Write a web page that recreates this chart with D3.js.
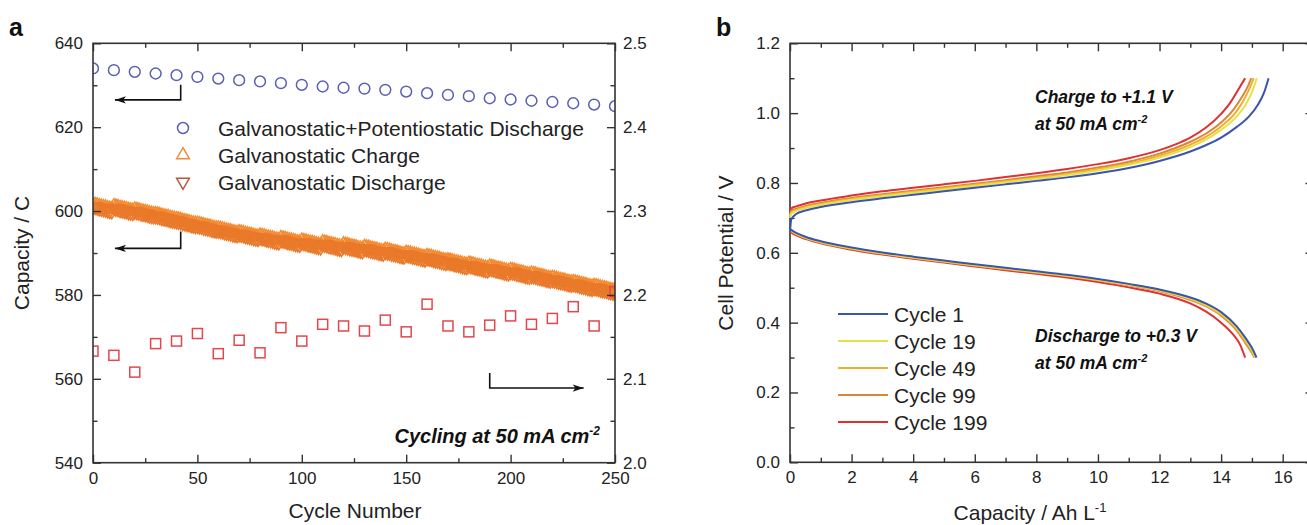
<!DOCTYPE html>
<html>
<head>
<meta charset="utf-8">
<script src="https://cdn.jsdelivr.net/npm/d3@7"></script>
<style>
  html, body { margin: 0; padding: 0; background: #fff; }
  svg { display: block; font-family: "Liberation Sans", Arial, Helvetica, sans-serif; }
  .tick text { font-size: 17px; fill: #222; }
  .domain { display: none; }
  .tick line { stroke: #333; stroke-width: 1.4; }
</style>
</head>
<body>
<svg id="chart" width="1307" height="525"></svg>
<script>
// ---------- Panel a: cycling data ----------
const cycleTicks = [0, 50, 100, 150, 200, 250];
const capTicks = [540, 560, 580, 600, 620, 640];
const voltTicksA = [2.0, 2.1, 2.2, 2.3, 2.4, 2.5];

// Galvanostatic + potentiostatic discharge capacity (C), every 10 cycles
const gpCycles = [0,10,20,30,40,50,60,70,80,90,100,110,120,130,140,150,160,170,180,190,200,210,220,230,240,250];
const gpCapacity = [634.0,633.6,633.2,632.8,632.4,632.0,631.6,631.2,630.9,630.5,630.1,629.7,629.4,629.2,628.9,628.5,628.1,627.7,627.4,626.9,626.6,626.3,626.0,625.7,625.4,625.0];

// Galvanostatic charge capacity (C), cycles 0..250
const galvCharge = [
  601.5,601.4,601.3,601.1,601.0,600.9,600.8,600.6,600.5,600.4,
  601.1,601.0,600.9,600.7,600.6,600.5,600.4,600.2,600.1,600.0,
  600.3,600.2,600.1,599.9,599.8,599.7,599.6,599.4,599.3,599.2,
  599.2,599.1,599.0,598.8,598.7,598.6,598.5,598.3,598.2,598.1,
  598.0,597.9,597.8,597.6,597.5,597.4,597.3,597.1,597.0,596.9,
  596.9,596.8,596.7,596.5,596.4,596.3,596.2,596.0,595.9,595.8,
  595.8,595.7,595.6,595.4,595.3,595.2,595.1,594.9,594.8,594.7,
  594.9,594.8,594.7,594.5,594.4,594.3,594.2,594.0,593.9,593.8,
  594.1,594.0,593.9,593.7,593.6,593.5,593.4,593.2,593.1,593.0,
  593.5,593.4,593.3,593.1,593.0,592.9,592.8,592.6,592.5,592.4,
  592.9,592.8,592.7,592.5,592.4,592.3,592.2,592.0,591.9,591.8,
  592.5,592.4,592.3,592.1,592.0,591.9,591.8,591.6,591.5,591.4,
  592.0,591.9,591.8,591.6,591.5,591.4,591.3,591.1,591.0,590.9,
  591.4,591.3,591.2,591.0,590.9,590.8,590.7,590.5,590.4,590.3,
  590.7,590.6,590.5,590.3,590.2,590.1,590.0,589.8,589.7,589.6,
  590.0,589.9,589.8,589.6,589.5,589.4,589.3,589.1,589.0,588.9,
  589.2,589.1,589.0,588.8,588.7,588.6,588.5,588.3,588.2,588.1,
  588.2,588.1,588.0,587.8,587.7,587.6,587.5,587.3,587.2,587.1,
  587.4,587.3,587.2,587.0,586.9,586.8,586.7,586.5,586.4,586.3,
  586.7,586.6,586.5,586.3,586.2,586.1,586.0,585.8,585.7,585.6,
  585.9,585.8,585.7,585.5,585.4,585.3,585.2,585.0,584.9,584.8,
  585.0,584.9,584.8,584.6,584.5,584.4,584.3,584.1,584.0,583.9,
  584.0,583.9,583.8,583.6,583.5,583.4,583.3,583.1,583.0,582.9,
  583.0,582.9,582.8,582.6,582.5,582.4,582.3,582.1,582.0,581.9,
  582.1,582.0,581.9,581.7,581.6,581.5,581.4,581.2,581.1,581.0,
  580.9
];

// Galvanostatic discharge capacity (C), cycles 0..250
const galvDischarge = [
  601.1,601.0,600.9,600.7,600.6,600.5,600.4,600.2,600.1,600.0,
  600.7,600.6,600.5,600.3,600.2,600.1,600.0,599.8,599.7,599.6,
  599.9,599.8,599.7,599.5,599.4,599.3,599.2,599.0,598.9,598.8,
  598.8,598.7,598.6,598.4,598.3,598.2,598.1,597.9,597.8,597.7,
  597.6,597.5,597.4,597.2,597.1,597.0,596.9,596.7,596.6,596.5,
  596.5,596.4,596.3,596.1,596.0,595.9,595.8,595.6,595.5,595.4,
  595.4,595.3,595.2,595.0,594.9,594.8,594.7,594.5,594.4,594.3,
  594.5,594.4,594.3,594.1,594.0,593.9,593.8,593.6,593.5,593.4,
  593.7,593.6,593.5,593.3,593.2,593.1,593.0,592.8,592.7,592.6,
  593.1,593.0,592.9,592.7,592.6,592.5,592.4,592.2,592.1,592.0,
  592.5,592.4,592.3,592.1,592.0,591.9,591.8,591.6,591.5,591.4,
  592.1,592.0,591.9,591.7,591.6,591.5,591.4,591.2,591.1,591.0,
  591.6,591.5,591.4,591.2,591.1,591.0,590.9,590.7,590.6,590.5,
  591.0,590.9,590.8,590.6,590.5,590.4,590.3,590.1,590.0,589.9,
  590.3,590.2,590.1,589.9,589.8,589.7,589.6,589.4,589.3,589.2,
  589.6,589.5,589.4,589.2,589.1,589.0,588.9,588.7,588.6,588.5,
  588.8,588.7,588.6,588.4,588.3,588.2,588.1,587.9,587.8,587.7,
  587.8,587.7,587.6,587.4,587.3,587.2,587.1,586.9,586.8,586.7,
  587.0,586.9,586.8,586.6,586.5,586.4,586.3,586.1,586.0,585.9,
  586.3,586.2,586.1,585.9,585.8,585.7,585.6,585.4,585.3,585.2,
  585.5,585.4,585.3,585.1,585.0,584.9,584.8,584.6,584.5,584.4,
  584.6,584.5,584.4,584.2,584.1,584.0,583.9,583.7,583.6,583.5,
  583.6,583.5,583.4,583.2,583.1,583.0,582.9,582.7,582.6,582.5,
  582.6,582.5,582.4,582.2,582.1,582.0,581.9,581.7,581.6,581.5,
  581.7,581.6,581.5,581.3,581.2,581.1,581.0,580.8,580.7,580.6,
  580.5
];

// Red squares on right axis (V), every 10 cycles
const voltCycles = [0,10,20,30,40,50,60,70,80,90,100,110,120,130,140,150,160,170,180,190,200,210,220,230,240,250];
const voltValues = [2.133,2.128,2.108,2.142,2.145,2.154,2.130,2.146,2.131,2.161,2.145,2.165,2.163,2.157,2.170,2.156,2.189,2.163,2.156,2.164,2.175,2.165,2.172,2.186,2.163,2.204];

const legendA = ["Galvanostatic+Potentiostatic Discharge", "Galvanostatic Charge", "Galvanostatic Discharge"];

// ---------- Panel b: voltage profiles ----------
const capTicksB = [0, 2, 4, 6, 8, 10, 12, 14, 16];
const potTicksB = [0.0, 0.2, 0.4, 0.6, 0.8, 1.0, 1.2];
const cycleNames = ["Cycle 1", "Cycle 19", "Cycle 49", "Cycle 99", "Cycle 199"];
const cycleColors = ["#3b55ad", "#e6e14a", "#f0ae2e", "#d8873a", "#e0302f"];

// [capacity Ah/L, potential V]
const chargeC1 = [[0,0.66],[0.04,0.695],[0.2,0.711],[0.5,0.721],[1,0.731],[2,0.745],[3,0.756],[4,0.766],[5,0.776],[6,0.786],[7,0.796],[8,0.806],[9,0.816],[10,0.828],[11,0.843],[12,0.863],[13,0.89],[13.5,0.908],[14,0.93],[14.5,0.96],[14.9,0.99],[15.2,1.025],[15.4,1.06],[15.54,1.10]];
const chargeC19 = [[0,0.70],[0.04,0.712],[0.2,0.72],[0.5,0.728],[1,0.737],[2,0.751],[3,0.762],[4,0.772],[5,0.782],[6,0.792],[7,0.802],[8,0.812],[9,0.823],[10,0.836],[11,0.852],[12,0.873],[13,0.903],[13.5,0.924],[14,0.952],[14.5,0.99],[14.8,1.025],[15.0,1.06],[15.16,1.10]];
const chargeC49 = [[0,0.705],[0.04,0.716],[0.2,0.723],[0.5,0.731],[1,0.740],[2,0.754],[3,0.765],[4,0.775],[5,0.785],[6,0.795],[7,0.805],[8,0.815],[9,0.826],[10,0.84],[11,0.856],[12,0.878],[13,0.91],[13.5,0.932],[14,0.962],[14.5,1.005],[14.75,1.04],[14.92,1.07],[15.06,1.10]];
const chargeC99 = [[0,0.708],[0.04,0.72],[0.2,0.726],[0.5,0.734],[1,0.743],[2,0.757],[3,0.768],[4,0.778],[5,0.788],[6,0.798],[7,0.808],[8,0.819],[9,0.83],[10,0.844],[11,0.861],[12,0.884],[13,0.918],[13.5,0.941],[14,0.973],[14.4,1.01],[14.7,1.05],[14.86,1.075],[14.98,1.10]];
const chargeC199 = [[0,0.715],[0.04,0.727],[0.2,0.733],[0.5,0.741],[1,0.75],[2,0.764],[3,0.776],[4,0.786],[5,0.796],[6,0.806],[7,0.817],[8,0.828],[9,0.84],[10,0.854],[11,0.871],[12,0.894],[12.5,0.91],[13,0.93],[13.5,0.958],[14,0.998],[14.3,1.03],[14.55,1.066],[14.78,1.10]];

const dischargeC1 = [[0,0.668],[0.2,0.657],[0.5,0.646],[1,0.633],[2,0.615],[3,0.601],[4,0.589],[5,0.578],[6,0.567],[7,0.557],[8,0.547],[9,0.537],[10,0.525],[11,0.511],[12,0.495],[13,0.472],[13.5,0.455],[14,0.43],[14.5,0.39],[14.8,0.355],[15.0,0.328],[15.15,0.30]];
const dischargeC19 = [[0,0.666],[0.2,0.655],[0.5,0.644],[1,0.631],[2,0.613],[3,0.599],[4,0.587],[5,0.576],[6,0.565],[7,0.555],[8,0.545],[9,0.535],[10,0.523],[11,0.509],[12,0.493],[13,0.469],[13.5,0.452],[14,0.426],[14.5,0.386],[14.8,0.35],[15.0,0.322],[15.12,0.30]];
const dischargeC49 = [[0,0.665],[0.2,0.654],[0.5,0.643],[1,0.630],[2,0.612],[3,0.598],[4,0.586],[5,0.575],[6,0.564],[7,0.554],[8,0.544],[9,0.534],[10,0.522],[11,0.508],[12,0.491],[13,0.467],[13.5,0.449],[14,0.423],[14.5,0.382],[14.8,0.345],[15.0,0.318],[15.1,0.30]];
const dischargeC99 = [[0,0.664],[0.2,0.653],[0.5,0.642],[1,0.629],[2,0.611],[3,0.597],[4,0.585],[5,0.574],[6,0.563],[7,0.553],[8,0.543],[9,0.533],[10,0.521],[11,0.507],[12,0.490],[13,0.465],[13.5,0.447],[14,0.42],[14.5,0.378],[14.8,0.34],[15.0,0.313],[15.08,0.30]];
const dischargeC199 = [[0,0.66],[0.2,0.65],[0.5,0.64],[1,0.627],[2,0.609],[3,0.595],[4,0.583],[5,0.572],[6,0.561],[7,0.55],[8,0.54],[9,0.529],[10,0.516],[11,0.501],[12,0.483],[13,0.455],[13.5,0.432],[14,0.40],[14.4,0.365],[14.6,0.34],[14.78,0.30]];

const chargeCurves = [chargeC1, chargeC19, chargeC49, chargeC99, chargeC199];
const dischargeCurves = [dischargeC1, dischargeC19, dischargeC49, dischargeC99, dischargeC199];

// ---------- drawing ----------
const svg = d3.select("#chart");
const AXIS = "#333";

function frameAxes(g, x, y, xMajor, xMinor, yMajor, yMinor, yFmt, left, right, top, bottom) {
  const maj = 8, min = 4.5;
  const add = (gen, tr) => g.append("g").attr("transform", tr).call(gen);
  add(d3.axisBottom(x).tickValues(xMajor).tickSize(-maj).tickPadding(9).tickFormat(d3.format("d")), `translate(0,${bottom})`);
  add(d3.axisBottom(x).tickValues(xMinor).tickSize(-min).tickFormat(""), `translate(0,${bottom})`);
  add(d3.axisTop(x).tickValues(xMajor).tickSize(-maj).tickFormat(""), `translate(0,${top})`);
  add(d3.axisTop(x).tickValues(xMinor).tickSize(-min).tickFormat(""), `translate(0,${top})`);
  add(d3.axisLeft(y).tickValues(yMajor).tickSize(-maj).tickPadding(10).tickFormat(yFmt), `translate(${left},0)`);
  add(d3.axisLeft(y).tickValues(yMinor).tickSize(-min).tickFormat(""), `translate(${left},0)`);
  g.append("rect").attr("x", left).attr("y", top).attr("width", right - left).attr("height", bottom - top)
    .attr("fill", "none").attr("stroke", AXIS).attr("stroke-width", 1.6);
}

function arrow(g, pts, color) {
  g.append("path").attr("d", d3.line()(pts)).attr("fill", "none").attr("stroke", color).attr("stroke-width", 1.6);
  const [p1, p2] = pts.slice(-2);
  const ang = Math.atan2(p2[1] - p1[1], p2[0] - p1[0]);
  const L = 11, Wd = 3.6;
  const tip = p2, back = [tip[0] - L * Math.cos(ang), tip[1] - L * Math.sin(ang)];
  const nx = -Math.sin(ang), ny = Math.cos(ang);
  g.append("path").attr("d", d3.line()([tip, [back[0] + nx * Wd, back[1] + ny * Wd], [back[0] + (tip[0]-back[0])*0.25, back[1] + (tip[1]-back[1])*0.25], [back[0] - nx * Wd, back[1] - ny * Wd]]) + "Z").attr("fill", color);
}

// ---- Panel a ----
const ga = svg.append("g");
const xA = d3.scaleLinear([0, 250], [93, 615]);
const yA = d3.scaleLinear([540, 640], [462.7, 43.3]);
const yA2 = d3.scaleLinear([2.0, 2.5], [462.7, 43.3]);

svg.append("defs").append("clipPath").attr("id", "clipA")
  .append("rect").attr("x", 93).attr("y", 43.3).attr("width", 615 - 93).attr("height", 462.7 - 43.3);

const marksA = ga.append("g").attr("clip-path", "url(#clipA)");

frameAxes(ga, xA, yA, cycleTicks, [25,75,125,175,225], capTicks, [550,570,590,610,630], d3.format("d"), 93, 615, 43.3, 462.7);
ga.append("g").attr("transform", "translate(615,0)")
  .call(d3.axisRight(yA2).tickValues(voltTicksA).tickSize(-8).tickPadding(8).tickFormat(d3.format(".1f")));
ga.append("g").attr("transform", "translate(615,0)")
  .call(d3.axisRight(yA2).tickValues([2.05,2.15,2.25,2.35,2.45]).tickSize(-4.5).tickFormat(""));

const symTri = d3.symbol().type(d3.symbolTriangle).size(78);

// charge (up triangles) and discharge (down triangles)
marksA.selectAll(".chg").data(galvCharge).join("path")
  .attr("d", symTri).attr("transform", (d, i) => `translate(${xA(i)},${yA(d)})`)
  .attr("fill", "none").attr("stroke", "#f58a2e").attr("stroke-width", 1.5);
marksA.selectAll(".dis").data(galvDischarge).join("path")
  .attr("d", symTri).attr("transform", (d, i) => `translate(${xA(i)},${yA(d)}) rotate(180)`)
  .attr("fill", "none").attr("stroke", "#e9792a").attr("stroke-width", 1.5);

marksA.selectAll(".gp").data(gpCapacity).join("circle")
  .attr("cx", (d, i) => xA(gpCycles[i])).attr("cy", d => yA(d)).attr("r", 5.4)
  .attr("fill", "none").attr("stroke", "#5a60b4").attr("stroke-width", 1.5);

marksA.selectAll(".sq").data(voltValues).join("rect")
  .attr("x", (d, i) => xA(voltCycles[i]) - 5).attr("y", d => yA2(d) - 5).attr("width", 10).attr("height", 10)
  .attr("fill", "none").attr("stroke", "#e2474d").attr("stroke-width", 1.5);

// axis-pointing arrows
arrow(ga, [[xA(42), yA(630.1)], [xA(42), yA(626.5)], [xA(10.5), yA(626.5)]], "#111");
arrow(ga, [[xA(42), yA(595.1)], [xA(42), yA(591.1)], [xA(10.5), yA(591.1)]], "#111");
arrow(ga, [[xA(190), yA2(2.107)], [xA(190), yA2(2.089)], [xA(235), yA2(2.089)]], "#111");

// legend
const legA = ga.append("g");
const legY = [128, 155, 182];
legA.append("circle").attr("cx", 183).attr("cy", legY[0]).attr("r", 5.5).attr("fill", "none").attr("stroke", "#5a60b4").attr("stroke-width", 1.5);
legA.append("path").attr("d", d3.symbol().type(d3.symbolTriangle).size(70)).attr("transform", `translate(183,${legY[1]})`).attr("fill", "none").attr("stroke", "#f08a3c").attr("stroke-width", 1.5);
legA.append("path").attr("d", d3.symbol().type(d3.symbolTriangle).size(70)).attr("transform", `translate(183,${legY[2]}) rotate(180)`).attr("fill", "none").attr("stroke", "#b8563a").attr("stroke-width", 1.5);
legA.selectAll("text").data(legendA).join("text")
  .attr("x", 218).attr("y", (d, i) => legY[i] + 7.5).attr("font-size", 21).attr("fill", "#222").text(d => d);

// annotation
const cyc = ga.append("text").attr("x", 600).attr("y", 443).attr("text-anchor", "end")
  .attr("font-size", 20).attr("font-weight", "bold").attr("font-style", "italic").attr("fill", "#111");
cyc.append("tspan").text("Cycling at 50 mA cm");
cyc.append("tspan").attr("dy", -8).attr("font-size", 12).text("-2");

// axis titles
ga.append("text").attr("x", 355).attr("y", 518).attr("text-anchor", "middle").attr("font-size", 21).attr("fill", "#222").text("Cycle Number");
ga.append("text").attr("transform", "translate(29,253) rotate(-90)").attr("text-anchor", "middle").attr("font-size", 21).attr("fill", "#222").text("Capacity / C");
ga.append("text").attr("x", 9).attr("y", 36).attr("font-size", 25).attr("font-weight", "bold").attr("fill", "#111").text("a");

// ---- Panel b ----
const gb = svg.append("g");
const xB = d3.scaleLinear([0, 17], [790, 1313.5]);
const yB = d3.scaleLinear([0, 1.2], [462.3, 43.3]);

frameAxes(gb, xB, yB, capTicksB, [1,3,5,7,9,11,13,15], potTicksB, [0.1,0.3,0.5,0.7,0.9,1.1], d3.format(".1f"), 790, 1313.5, 43.3, 462.3);
gb.append("g").attr("transform", "translate(1313.5,0)")
  .call(d3.axisRight(yB).tickValues(potTicksB).tickSize(-8).tickFormat(""));
gb.append("g").attr("transform", "translate(1313.5,0)")
  .call(d3.axisRight(yB).tickValues([0.1,0.3,0.5,0.7,0.9,1.1]).tickSize(-4.5).tickFormat(""));

const lineB = d3.line().x(d => xB(d[0])).y(d => yB(d[1])).curve(d3.curveMonotoneX);
const curvesB = gb.append("g");
[4, 3, 2, 1, 0].forEach(k => {
  curvesB.append("path").attr("d", lineB(chargeCurves[k])).attr("fill", "none").attr("stroke", cycleColors[k]).attr("stroke-width", 2);
  curvesB.append("path").attr("d", lineB(dischargeCurves[k])).attr("fill", "none").attr("stroke", cycleColors[k]).attr("stroke-width", 2);
});

// legend
const legB = gb.append("g");
cycleNames.forEach((name, i) => {
  const y = 314 + i * 27;
  legB.append("line").attr("x1", 838).attr("x2", 888).attr("y1", y).attr("y2", y).attr("stroke", cycleColors[i]).attr("stroke-width", 2);
  legB.append("text").attr("x", 894).attr("y", y + 7.5).attr("font-size", 21).attr("fill", "#222").text(name);
});

function note(g, x, y, lines) {
  lines.forEach((ln, i) => {
    const t = g.append("text").attr("x", x).attr("y", y + i * 27).attr("font-size", 17.5)
      .attr("font-weight", "bold").attr("font-style", "italic").attr("fill", "#111");
    t.append("tspan").text(ln[0]);
    if (ln[1]) t.append("tspan").attr("dy", -7).attr("font-size", 11).text(ln[1]);
  });
}
note(gb, 1035, 103, [["Charge to +1.1 V"], ["at 50 mA cm", "-2"]]);
note(gb, 1035, 342, [["Discharge to +0.3 V"], ["at 50 mA cm", "-2"]]);

gb.append("text").attr("x", 1030).attr("y", 520).attr("text-anchor", "middle").attr("font-size", 21).attr("fill", "#222")
  .call(t => { t.append("tspan").text("Capacity / Ah L"); t.append("tspan").attr("dy", -8).attr("font-size", 13).text("-1"); });
gb.append("text").attr("transform", "translate(733,253) rotate(-90)").attr("text-anchor", "middle").attr("font-size", 21).attr("fill", "#222").text("Cell Potential / V");
gb.append("text").attr("x", 716).attr("y", 36).attr("font-size", 25).attr("font-weight", "bold").attr("fill", "#111").text("b");
</script>
</body>
</html>
